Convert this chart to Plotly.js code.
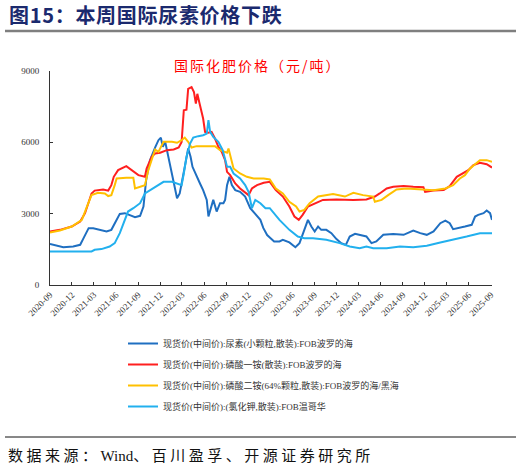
<!DOCTYPE html>
<html>
<head>
<meta charset="utf-8">
<script src="https://cdn.plot.ly/plotly-3.0.1.min.js"></script>
<style>
html,body{margin:0;padding:0;background:#fff;}
#chart{width:521px;height:467px;}
</style>
</head>
<body>
<div id="chart"></div>
<script>
// ---- Data ----
const seriesNames = [
  "现货价(中间价):尿素(小颗粒,散装):FOB波罗的海",
  "现货价(中间价):磷酸一铵(散装):FOB波罗的海",
  "现货价(中间价):磷酸二铵(64%颗粒,散装):FOB波罗的海/黑海",
  "现货价(中间价):(氯化钾,散装):FOB温哥华"
];

const ureaDates = ["2020-09-01","2020-09-28","2020-10-26","2020-12-06","2021-01-04","2021-01-18","2021-02-08","2021-02-27","2021-03-26","2021-04-23","2021-05-13","2021-05-27","2021-06-17","2021-07-08","2021-07-28","2021-08-19","2021-09-09","2021-09-23","2021-10-04","2021-10-20","2021-11-10","2021-11-24","2021-12-04","2021-12-12","2021-12-22","2021-12-29","2022-01-12","2022-01-26","2022-02-09","2022-02-20","2022-03-04","2022-03-13","2022-03-27","2022-04-06","2022-04-14","2022-05-01","2022-05-15","2022-05-28","2022-06-12","2022-06-19","2022-06-26","2022-07-09","2022-07-23","2022-08-06","2022-08-20","2022-08-27","2022-09-04","2022-09-14","2022-09-24","2022-10-08","2022-10-28","2022-11-18","2022-12-09","2023-01-06","2023-01-20","2023-02-01","2023-02-17","2023-03-01","2023-03-18","2023-04-09","2023-04-23","2023-05-20","2023-06-14","2023-07-01","2023-07-14","2023-08-05","2023-08-19","2023-09-02","2023-09-16","2023-09-29","2023-10-20","2023-11-10","2023-12-01","2023-12-21","2024-01-09","2024-01-25","2024-02-16","2024-03-06","2024-04-03","2024-04-24","2024-05-14","2024-06-12","2024-07-23","2024-09-04","2024-10-14","2024-11-12","2024-12-09","2025-01-06","2025-02-03","2025-02-24","2025-03-14","2025-03-28","2025-04-18","2025-05-16","2025-06-13","2025-06-27","2025-07-10","2025-08-01","2025-08-14","2025-08-28","2025-09-05"];
const ureaValues = [1730,1650,1590,1620,1690,1970,2390,2390,2320,2250,2320,2600,2990,3020,2950,2850,2910,3300,4410,5250,5780,6090,6200,5810,6020,5670,4970,4410,3650,3850,4410,4970,5740,5390,4970,4620,4270,3990,3580,2880,3160,3580,3090,3440,3440,3580,4200,4550,4200,3990,3920,3720,3230,2880,2740,2400,2100,1990,1830,1830,1900,1790,1590,1760,2110,2740,2460,2250,2460,2320,2320,2180,1930,1760,1690,2040,2150,2110,2040,1760,1830,2110,2140,2110,2290,2180,2110,2250,2600,2710,2600,2350,2390,2460,2530,2880,2950,3020,3130,3020,2740];

const mapDates = ["2020-09-01","2020-10-12","2020-11-30","2021-01-04","2021-01-24","2021-02-08","2021-02-20","2021-03-05","2021-04-09","2021-04-30","2021-05-13","2021-05-23","2021-06-10","2021-07-14","2021-08-05","2021-09-02","2021-09-29","2021-10-06","2021-10-27","2021-11-10","2021-12-01","2021-12-29","2022-01-26","2022-02-16","2022-02-28","2022-03-09","2022-03-20","2022-03-27","2022-04-10","2022-04-20","2022-04-28","2022-05-04","2022-05-12","2022-05-22","2022-05-28","2022-06-05","2022-06-19","2022-07-02","2022-07-16","2022-07-30","2022-08-13","2022-08-27","2022-09-04","2022-09-17","2022-10-08","2022-10-28","2022-11-14","2022-12-02","2022-12-16","2023-01-06","2023-02-03","2023-02-28","2023-03-25","2023-04-23","2023-05-20","2023-06-10","2023-06-28","2023-07-14","2023-08-05","2023-09-02","2023-10-06","2023-12-01","2024-02-09","2024-04-03","2024-05-08","2024-05-28","2024-06-26","2024-07-23","2024-09-04","2024-10-14","2024-11-25","2024-12-02","2025-01-06","2025-02-17","2025-03-14","2025-04-12","2025-05-09","2025-05-30","2025-06-20","2025-07-17","2025-08-14","2025-08-28","2025-09-05"];
const mapValues = [2250,2320,2460,2670,3020,3440,3850,3970,4020,3970,4200,4550,4830,5000,4830,4620,4550,4900,5390,5530,5560,5670,5700,5780,6020,7350,7370,8250,8320,8110,7630,8040,7690,7200,7000,6440,6400,6440,6160,5810,5600,5250,4760,4620,4270,4060,3920,3780,4060,4200,4300,4340,3990,3720,3300,2880,2740,2950,3300,3440,3580,3600,3580,3600,3720,3850,4060,4130,4160,4130,4110,3920,3970,3990,4160,4550,4690,4830,5040,5140,5080,4970,4940];

const dapDates = ["2020-09-01","2020-10-12","2020-11-30","2021-01-11","2021-02-01","2021-02-20","2021-03-19","2021-04-16","2021-04-30","2021-05-13","2021-05-27","2021-06-04","2021-07-14","2021-08-12","2021-08-19","2021-09-09","2021-09-29","2021-10-13","2021-10-27","2021-11-10","2021-11-24","2021-12-15","2022-01-19","2022-02-09","2022-02-28","2022-03-13","2022-03-27","2022-04-10","2022-05-01","2022-06-12","2022-07-16","2022-08-06","2022-09-04","2022-09-10","2022-09-24","2022-10-01","2022-10-28","2022-11-25","2022-12-23","2023-02-03","2023-02-28","2023-03-25","2023-04-23","2023-05-20","2023-06-17","2023-07-01","2023-07-21","2023-08-12","2023-09-16","2023-10-20","2023-11-17","2024-01-05","2024-02-09","2024-03-20","2024-05-01","2024-05-08","2024-06-05","2024-07-02","2024-08-06","2024-09-17","2024-11-12","2025-01-06","2025-02-24","2025-03-28","2025-04-25","2025-05-16","2025-06-06","2025-07-17","2025-08-14","2025-09-05"];
const dapValues = [2210,2290,2460,2740,3300,3780,3880,3850,3740,3780,4200,4480,4510,4510,4060,4130,4200,4830,5250,5700,5600,6020,6020,5980,6090,6200,6020,5780,5840,5840,5840,5670,5560,5740,5250,4900,4690,4550,4480,4480,4440,4060,3850,3500,3300,3090,3160,3440,3720,3780,3830,3720,3880,3780,3720,3500,3580,3780,4020,4060,4020,3990,4060,4200,4480,4620,4900,5250,5250,5180];

const potashDates = ["2020-09-01","2021-02-20","2021-03-05","2021-04-02","2021-05-06","2021-05-27","2021-06-17","2021-07-08","2021-07-21","2021-08-12","2021-09-09","2021-09-29","2021-10-20","2021-11-10","2021-12-15","2022-01-19","2022-02-09","2022-02-28","2022-03-09","2022-03-20","2022-04-04","2022-04-17","2022-05-08","2022-05-28","2022-06-12","2022-06-19","2022-06-26","2022-07-09","2022-07-30","2022-08-17","2022-09-04","2022-09-17","2022-10-01","2022-10-28","2022-11-18","2022-12-02","2022-12-16","2022-12-30","2023-01-20","2023-02-10","2023-02-28","2023-04-09","2023-05-20","2023-06-24","2023-07-21","2023-08-26","2023-10-20","2023-12-14","2024-01-25","2024-03-06","2024-04-03","2024-05-01","2024-06-26","2024-08-20","2024-10-14","2024-12-09","2025-02-03","2025-03-28","2025-05-23","2025-07-17","2025-09-05"];
const potashValues = [1410,1410,1480,1510,1620,1760,2180,2740,3090,3230,3440,3850,3990,4130,4340,4340,4270,4200,4690,5390,5950,6200,6260,6300,6370,6930,6440,6230,6020,5670,4970,4970,4690,4480,4200,3920,3230,3580,3440,3230,3230,2740,2320,2040,1970,1970,1900,1760,1620,1550,1620,1550,1550,1620,1590,1650,1790,1900,2040,2180,2180];

const yTickVals = [0,3000,6000,9000];
const xTickVals = ["2020-09-01","2020-12-01","2021-03-01","2021-06-01","2021-09-01","2021-12-01","2022-03-01","2022-06-01","2022-09-01","2022-12-01","2023-03-01","2023-06-01","2023-09-01","2023-12-01","2024-03-01","2024-06-01","2024-09-01","2024-12-01","2025-03-01","2025-06-01","2025-09-01"];
const xTickText = ["2020-09","2020-12","2021-03","2021-06","2021-09","2021-12","2022-03","2022-06","2022-09","2022-12","2023-03","2023-06","2023-09","2023-12","2024-03","2024-06","2024-09","2024-12","2025-03","2025-06","2025-09"];

const headerText = "图15：本周国际尿素价格下跌";
const chartTitle = "国际化肥价格（元/吨）";
const sourceLead = "数据来源：";
const sourceWind = "Wind";
const sourceRest = "、百川盈孚、开源证券研究所";

// ---- Styles ----
const colors = ["#1f6fc1", "#ff1f1f", "#ffc000", "#22b0ee"];
const serif = "'Liberation Serif', 'Noto Sans CJK SC', serif";
const cjk = "'Noto Sans CJK SC', sans-serif";

const xs = [ureaDates, mapDates, dapDates, potashDates];
const ys = [ureaValues, mapValues, dapValues, potashValues];

const traces = seriesNames.map((n, i) => ({
  type: "scatter", mode: "lines", name: n,
  x: xs[i], y: ys[i],
  line: {color: colors[i], width: 2},
  legendgroup: "g" + i
}));

// pixel -> paper helpers (plot area: x 50..492, y 71..285)
const PL = 50, PR = 492, PT = 71, PB = 285;
const px = v => (v - PL) / (PR - PL);
const py = v => (PB - v) / (PB - PT);

const layout = {
  width: 521, height: 467,
  margin: {l: PL, r: 521 - PR, t: PT, b: 467 - PB, pad: 0},
  paper_bgcolor: "#fff", plot_bgcolor: "#fff",
  showlegend: true,
  legend: {
    x: px(123), y: py(329), xanchor: "left", yanchor: "top",
    orientation: "v",
    font: {family: serif, size: 9, color: "#333"},
    tracegroupgap: 2,
    bgcolor: "rgba(0,0,0,0)", itemwidth: 30
  },
  xaxis: {
    type: "date",
    range: ["2020-09-01", "2025-09-05"],
    tickvals: xTickVals, ticktext: xTickText,
    tickangle: -45,
    ticks: "inside", ticklen: 3, tickcolor: "#333",
    showline: true, linecolor: "#333", linewidth: 1,
    showgrid: false, zeroline: false,
    tickfont: {family: serif, size: 9, color: "#333"}
  },
  yaxis: {
    range: [0, 9000],
    tickvals: yTickVals,
    ticks: "inside", ticklen: 3, tickcolor: "#333",
    showline: true, linecolor: "#333", linewidth: 1,
    showgrid: false, zeroline: false,
    tickfont: {family: serif, size: 9, color: "#333"},
    ticklabelstandoff: 8
  },
  shapes: [
    {type: "line", xref: "paper", yref: "paper", x0: px(5), x1: px(516), y0: py(31), y1: py(31),
     line: {color: "#7f7f7f", width: 2.5}},
    {type: "line", xref: "paper", yref: "paper", x0: px(5), x1: px(516), y0: py(437), y1: py(437),
     line: {color: "#111", width: 1}}
  ],
  annotations: [
    {xref: "paper", yref: "paper", x: px(7), y: py(15), xanchor: "left", yanchor: "middle",
     text: "<b><span style='letter-spacing:0.7px'>" + headerText + "</span></b>", showarrow: false,
     font: {family: cjk, size: 20, color: "#1b2a6e"}},
    {xref: "paper", yref: "paper", x: px(258), y: py(65), xanchor: "center", yanchor: "middle",
     text: "<span style='letter-spacing:2px'>" + chartTitle + "</span>", showarrow: false,
     font: {family: cjk, size: 14, color: "#ff0000"}},
    {xref: "paper", yref: "paper", x: px(6), y: py(456), xanchor: "left", yanchor: "middle",
     text: "<span style='letter-spacing:3.5px'>" + sourceLead + "</span>" + sourceWind +
           "<span style='letter-spacing:3.5px'>" + sourceRest + "</span>", showarrow: false,
     font: {family: "'Liberation Serif', 'Noto Sans CJK SC', serif", size: 15, color: "#111"}}
  ]
};

Plotly.newPlot("chart", traces, layout, {staticPlot: true, displayModeBar: false});
</script>
</body>
</html>
